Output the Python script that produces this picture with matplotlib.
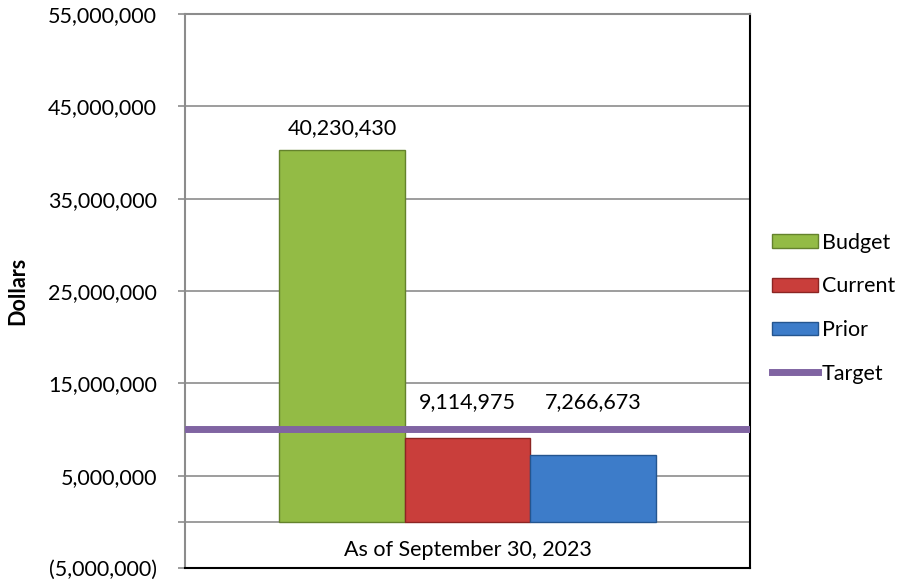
import numpy as np
import matplotlib.pyplot as plt
from matplotlib.ticker import FuncFormatter, FixedLocator

# Data
category = 'As of September 30, 2023'
series = ['Budget', 'Current', 'Prior']
values = [40230430, 9114975, 7266673]
target = 10000000
yticks = [-5000000, 5000000, 15000000, 25000000, 35000000, 45000000, 55000000]

colors = ['#93bb45', '#c93e3b', '#3d7cc9']
edges = ['#64822c', '#8c2523', '#24558f']

plt.rcParams['font.family'] = ['Lato', 'DejaVu Sans']
fs = 15.5

fig = plt.figure(figsize=(9.03, 5.87), dpi=100)
ax = fig.add_axes([0.2049, 0.0324, 0.6257, 0.9437])

width = 0.222
offsets = (np.arange(len(series)) - 1) * width
bars = []
for i, (name, v) in enumerate(zip(series, values)):
    b = ax.bar(offsets[i], v, width=width, color=colors[i], edgecolor=edges[i],
               linewidth=1, label=name, zorder=3)
    bars.append(b)

# target line
tl = ax.axhline(target, color='#8064a2', linewidth=5, zorder=4, label='Target')

# value labels (kept clear of the target line)
for i, v in enumerate(values):
    ypos = v if v > target else target + 600000
    ax.annotate(f'{v:,}', (offsets[i], ypos), xytext=(0, 16),
                textcoords='offset points', ha='center', va='center',
                fontsize=fs, color='#000000')

ax.set_xlim(-0.5, 0.5)
ax.set_ylim(-5000000, 55000000)
ax.yaxis.set_major_locator(FixedLocator(yticks + [0]))
ax.yaxis.set_major_formatter(FuncFormatter(
    lambda v, p: '' if v == 0 else (f'({abs(v):,.0f})' if v < 0 else f'{v:,.0f}')))
ax.grid(axis='y', color='#8c8c8c', linewidth=1.2, zorder=0)
ax.set_axisbelow(True)
ax.tick_params(axis='y', length=5, width=1.2, color='#8c8c8c', labelsize=fs, pad=15)
ax.set_xticks([])

# category label below the zero line
ax.text(0, -3000000, category, ha='center', va='center', fontsize=fs)

ax.set_ylabel('Dollars', fontsize=fs, fontweight='bold')
ax.yaxis.set_label_coords(-0.278, 0.5)

for s in ['left', 'top']:
    ax.spines[s].set_color('#8c8c8c')
    ax.spines[s].set_linewidth(1.5)
for s in ['right', 'bottom']:
    ax.spines[s].set_color('#000000')
    ax.spines[s].set_linewidth(1.5)

leg = fig.legend(handles=[b for b in bars] + [tl], loc='center left',
                 bbox_to_anchor=(0.834, 0.475), frameon=False, fontsize=fs,
                 handlelength=2.1, handleheight=0.6, labelspacing=1.1,
                 handletextpad=0.2)

fig.savefig('out.png', dpi=100)
